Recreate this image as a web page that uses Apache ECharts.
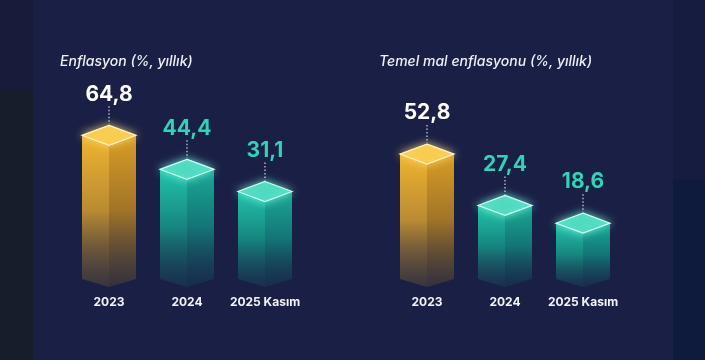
<!DOCTYPE html>
<html>
<head>
<meta charset="utf-8">
<script src="https://cdn.jsdelivr.net/npm/echarts@6/dist/echarts.min.js"></script>
<style>
html,body{margin:0;padding:0;background:#1a1f45;}
#c{width:705px;height:360px;}
</style>
</head>
<body>
<div id="c"></div>
<script>
const categories = ['2023', '2024', '2025 Kasım'];
const enflasyon = [64.8, 44.4, 31.1];
const temelMal = [52.8, 27.4, 18.6];
const leftTitle = 'Enflasyon (%, yıllık)';
const rightTitle = 'Temel mal enflasyonu (%, yıllık)';

const FONT = 'Inter, "Noto Sans", sans-serif';
const leftMin = -25, leftMax = 95;
const rightMin = -12, rightMax = 87;

function fmt(v) { return v.toFixed(1).replace('.', ','); }

function makeRender(axisMin) {
  return function (params, api) {
    const i = api.value(0), v = api.value(1);
    const top = api.coord([i, v]);
    const bot = api.coord([i, axisMin]);
    const cx = top[0], yT = top[1], yB = bot[1];
    const hw = 27, dh = 10;
    const gold = i === 0;
    const G = echarts.graphic.LinearGradient;
    const leftFill = gold
      ? new G(0, 0, 0, 1, [{offset: 0, color: '#f0b52f'}, {offset: 0.5, color: '#b98a33'}, {offset: 1, color: 'rgba(85,72,58,0.5)'}])
      : new G(0, 0, 0, 1, [{offset: 0, color: '#22c4a9'}, {offset: 0.5, color: '#16857f'}, {offset: 1, color: 'rgba(25,70,90,0.4)'}]);
    const rightFill = gold
      ? new G(0, 0, 0, 1, [{offset: 0, color: '#d99d25'}, {offset: 0.5, color: '#a07428'}, {offset: 1, color: 'rgba(78,66,55,0.5)'}])
      : new G(0, 0, 0, 1, [{offset: 0, color: '#1aa995'}, {offset: 0.5, color: '#137476'}, {offset: 1, color: 'rgba(22,62,85,0.4)'}]);
    const topFill = gold ? '#f9cc4e' : '#4fd9bf';
    const edge = gold ? '#fff3c4' : '#c8fff2';
    const glow = gold ? 'rgba(255,220,120,0.8)' : 'rgba(120,255,225,0.8)';
    const labelColor = gold ? '#ffffff' : '#2fd3b6';
    const labelY = yT - dh - 31;
    const children = [
      {type: 'polygon', shape: {points: [[cx - hw, yT], [cx, yT + dh], [cx, yB + 2], [cx - hw, yB - 6]]}, style: {fill: leftFill}},
      {type: 'polygon', shape: {points: [[cx, yT + dh], [cx + hw, yT], [cx + hw, yB - 6], [cx, yB + 2]]}, style: {fill: rightFill}},
      {type: 'polygon', shape: {points: [[cx, yT - dh], [cx + hw, yT], [cx, yT + dh], [cx - hw, yT]]},
        style: {fill: topFill, stroke: edge, lineWidth: 1.2, shadowBlur: 8, shadowColor: glow}},
      {type: 'line', shape: {x1: cx, y1: labelY + 12, x2: cx, y2: yT - dh - 1},
        style: {stroke: 'rgba(255,255,255,0.75)', lineWidth: 1.3, lineDash: [1.5, 2]}},
      {type: 'text', x: cx, y: labelY,
        style: {text: fmt(v), fill: labelColor, font: 'bold 21px ' + FONT, align: 'center', verticalAlign: 'middle'}}
    ];
    return {type: 'group', children: children};
  };
}

const chart = echarts.init(document.getElementById('c'));
chart.setOption({
  backgroundColor: '#1a1f45',
  animation: false,
  graphic: [
    {type: 'rect', z: -10, shape: {x: 0, y: 0, width: 33, height: 90}, style: {fill: '#171c3b'}},
    {type: 'rect', z: -10, shape: {x: 0, y: 90, width: 33, height: 270}, style: {fill: '#181d2b'}},
    {type: 'rect', z: -10, shape: {x: 673, y: 0, width: 32, height: 180}, style: {fill: '#161c40'}},
    {type: 'rect', z: -10, shape: {x: 673, y: 180, width: 32, height: 180}, style: {fill: '#0f1b3c'}},
    {type: 'text', left: 60, top: 55, style: {text: leftTitle, fill: '#eef0f6', font: 'italic 500 14px ' + FONT}},
    {type: 'text', left: 379, top: 55, style: {text: rightTitle, fill: '#eef0f6', font: 'italic 500 14px ' + FONT}}
  ],
  grid: [
    {left: 70, width: 234, top: 85, height: 200},
    {left: 388, width: 234, top: 85, height: 200}
  ],
  xAxis: [0, 1].map(g => ({
    type: 'category', gridIndex: g, data: categories,
    axisLine: {show: false}, axisTick: {show: false}, splitLine: {show: false},
    axisLabel: {interval: 0, color: '#f2f3f8', fontFamily: FONT, fontWeight: 'bold', fontSize: 12, margin: 11}
  })),
  yAxis: [
    {type: 'value', gridIndex: 0, min: leftMin, max: leftMax, show: false},
    {type: 'value', gridIndex: 1, min: rightMin, max: rightMax, show: false}
  ],
  series: [
    {type: 'custom', xAxisIndex: 0, yAxisIndex: 0, clip: false,
      renderItem: makeRender(leftMin), data: enflasyon.map((v, i) => [i, v])},
    {type: 'custom', xAxisIndex: 1, yAxisIndex: 1, clip: false,
      renderItem: makeRender(rightMin), data: temelMal.map((v, i) => [i, v])}
  ]
});
</script>
</body>
</html>
